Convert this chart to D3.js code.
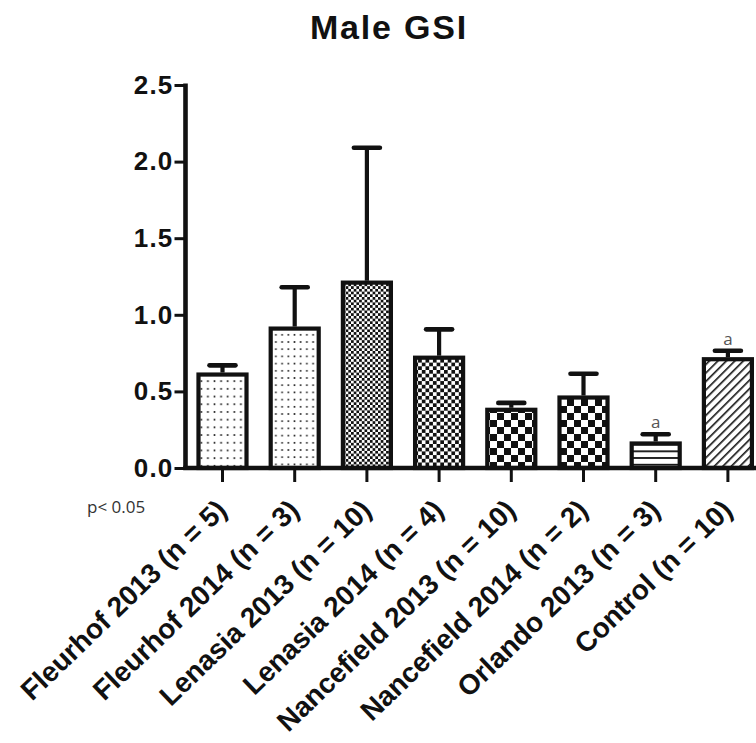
<!DOCTYPE html>
<html>
<head>
<meta charset="utf-8">
<script src="https://cdn.jsdelivr.net/npm/d3@7"></script>
<style>
  html, body { margin: 0; padding: 0; background: #fff; }
  svg { display: block; }
</style>
</head>
<body>
<div id="chart"></div>
<script>
const title = 'Male GSI';
const categories = [
  'Fleurhof 2013 (n = 5)', 'Fleurhof 2014 (n = 3)', 'Lenasia 2013 (n = 10)',
  'Lenasia 2014 (n = 4)', 'Nancefield 2013 (n = 10)', 'Nancefield 2014 (n = 2)',
  'Orlando 2013 (n = 3)', 'Control (n = 10)'
];
const means = [0.61, 0.91, 1.21, 0.72, 0.38, 0.46, 0.16, 0.71];
const errors = [0.06, 0.27, 0.88, 0.185, 0.045, 0.155, 0.06, 0.055];
const sigLabels = ['', '', '', '', '', '', 'a', 'a'];
const patterns = ['dots1', 'dots2', 'check3', 'check4', 'check7', 'check7b', 'hlines', 'hatch'];
const yTicks = [0, 0.5, 1.0, 1.5, 2.0, 2.5];
const note = 'p< 0.05';

const width = 756, height = 743;
const svg = d3.select('#chart').append('svg')
  .attr('width', width).attr('height', height);

const ink = '#111';

// Fill patterns
const defs = svg.append('defs');
function dotPattern(id, w, h, r) {
  const p = defs.append('pattern').attr('id', id)
    .attr('patternUnits', 'userSpaceOnUse').attr('width', w).attr('height', h);
  p.append('rect').attr('width', w).attr('height', h).attr('fill', '#fff');
  p.append('circle').attr('cx', w / 2).attr('cy', h / 2).attr('r', r).attr('fill', '#222');
}
function checkPattern(id, c) {
  const p = defs.append('pattern').attr('id', id)
    .attr('patternUnits', 'userSpaceOnUse').attr('width', c * 2).attr('height', c * 2);
  p.append('rect').attr('width', c * 2).attr('height', c * 2).attr('fill', '#fff');
  p.append('rect').attr('width', c).attr('height', c).attr('fill', ink);
  p.append('rect').attr('x', c).attr('y', c).attr('width', c).attr('height', c).attr('fill', ink);
}
dotPattern('dots1', 6.6, 7.7, 1.0);
dotPattern('dots2', 6.2, 7.2, 1.0);
checkPattern('check3', 2.7);
checkPattern('check4', 3.7);
checkPattern('check7', 7);
checkPattern('check7b', 7);
{
  const p = defs.append('pattern').attr('id', 'hlines')
    .attr('patternUnits', 'userSpaceOnUse').attr('width', 10).attr('height', 6.7)
    .attr('y', 1.5);
  p.append('rect').attr('width', 10).attr('height', 6.7).attr('fill', '#fff');
  p.append('rect').attr('y', 0).attr('width', 10).attr('height', 1.8).attr('fill', ink);
}
{
  const p = defs.append('pattern').attr('id', 'hatch')
    .attr('patternUnits', 'userSpaceOnUse').attr('width', 6).attr('height', 6)
    .attr('patternTransform', 'rotate(45)');
  p.append('rect').attr('width', 6).attr('height', 6).attr('fill', '#fff');
  p.append('rect').attr('x', 0).attr('width', 1.6).attr('height', 6).attr('fill', ink);
}

// Scales
const x = d3.scaleBand().domain(categories).range([186.4, 764])
  .paddingInner(0.335).paddingOuter(0.1675);
const y = d3.scaleLinear().domain([0, 2.5]).range([468, 85]);

// Title
svg.append('text')
  .attr('x', 389).attr('y', 39)
  .attr('text-anchor', 'middle')
  .attr('font-family', 'Liberation Sans, Arial, sans-serif')
  .attr('font-weight', 'bold').attr('font-size', 34)
  .attr('letter-spacing', 1.8)
  .attr('fill', '#111')
  .text(title);

// Bars
const bars = svg.append('g');
bars.selectAll('rect')
  .data(means)
  .join('rect')
  .attr('x', (d, i) => x(categories[i]))
  .attr('y', d => y(d))
  .attr('width', x.bandwidth())
  .attr('height', d => y(0) - y(d))
  .attr('fill', (d, i) => `url(#${patterns[i]})`)
  .attr('stroke', ink)
  .attr('stroke-width', 4.2);

// Error bars
const err = svg.append('g').attr('stroke', ink).attr('stroke-width', 4.2);
means.forEach((m, i) => {
  const cx = x(categories[i]) + x.bandwidth() / 2;
  err.append('line')
    .attr('x1', cx).attr('x2', cx)
    .attr('y1', y(m) - 2).attr('y2', y(m + errors[i]));
  err.append('line')
    .attr('x1', cx - 13).attr('x2', cx + 13)
    .attr('y1', y(m + errors[i])).attr('y2', y(m + errors[i]))
    .attr('stroke-width', 4.6)
    .attr('stroke-linecap', 'round');
  if (sigLabels[i]) {
    svg.append('text')
      .attr('x', cx).attr('y', y(m + errors[i]) - 6)
      .attr('text-anchor', 'middle')
      .attr('font-family', 'Open Sans, sans-serif')
      .attr('font-size', 17).attr('fill', '#555')
      .text(sigLabels[i]);
  }
});

// Y axis
const yAxis = svg.append('g')
  .attr('transform', 'translate(185.5,0)')
  .call(d3.axisLeft(y).tickValues(yTicks).tickSize(11).tickPadding(1).tickFormat(d3.format('.1f')));
yAxis.select('.domain').remove();
yAxis.selectAll('.tick line').attr('stroke', ink).attr('stroke-width', 3);
yAxis.selectAll('.tick text')
  .attr('font-family', 'Liberation Sans, Arial, sans-serif')
  .attr('font-weight', 'bold').attr('font-size', 26)
  .attr('letter-spacing', 1.2).attr('fill', '#111');
svg.append('line')
  .attr('x1', 185.5).attr('x2', 185.5)
  .attr('y1', y(2.5) - 1.5).attr('y2', y(0) + 2)
  .attr('stroke', ink).attr('stroke-width', 4.6);

// X axis
const xAxis = svg.append('g')
  .attr('transform', `translate(0,${y(0)})`)
  .call(d3.axisBottom(x).tickSize(14).tickSizeOuter(0));
xAxis.select('.domain').remove();
xAxis.selectAll('.tick line').attr('stroke', ink).attr('stroke-width', 3);
xAxis.selectAll('.tick text')
  .attr('font-family', 'Liberation Sans, Arial, sans-serif')
  .attr('font-weight', 'bold').attr('font-size', 28).attr('fill', '#111')
  .attr('text-anchor', 'end')
  .attr('y', 0).attr('dy', 0)
  .attr('transform', 'translate(6,44) rotate(-44)');
svg.append('line')
  .attr('x1', 183.2).attr('x2', width)
  .attr('y1', y(0)).attr('y2', y(0))
  .attr('stroke', ink).attr('stroke-width', 4.4);

// Note
svg.append('text')
  .attr('x', 87).attr('y', 513)
  .attr('font-family', 'Open Sans, sans-serif')
  .attr('font-size', 17).attr('fill', '#333')
  .text(note);
</script>
</body>
</html>
